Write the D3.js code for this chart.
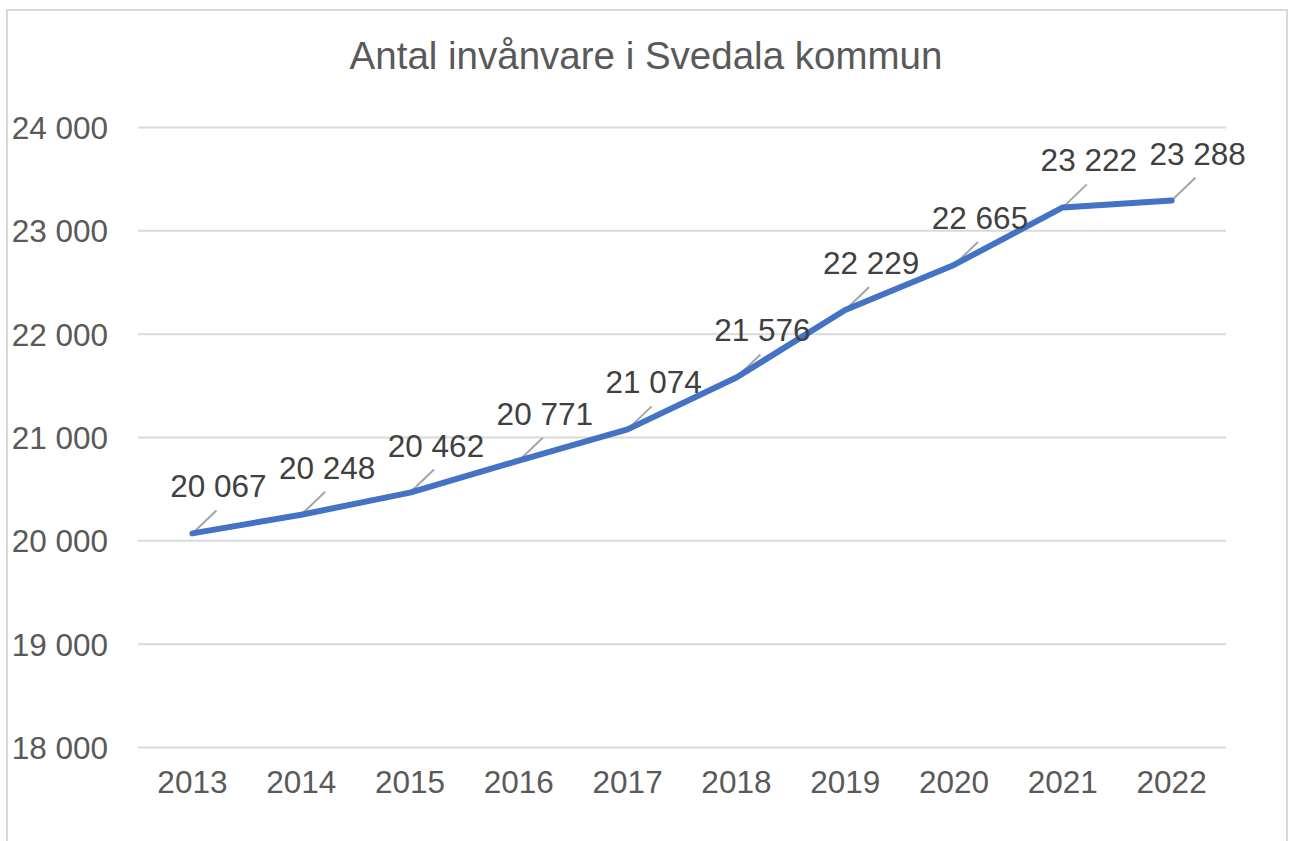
<!DOCTYPE html>
<html lang="sv">
<head>
  <meta charset="UTF-8">
  <title>Antal invånvare i Svedala kommun</title>
  <script src="https://cdnjs.cloudflare.com/ajax/libs/d3/7.8.5/d3.min.js"></script>
  <style>
    html, body { margin: 0; padding: 0; background: #fff; }
    svg { display: block; font-family: "Liberation Sans", Arial, sans-serif; }
  </style>
</head>
<body>
  <svg class="chart"></svg>
  <script>
    // data
    const years = ["2013", "2014", "2015", "2016", "2017", "2018", "2019", "2020", "2021", "2022"];
    const population = [20067, 20248, 20462, 20771, 21074, 21576, 22229, 22665, 23222, 23288];
    const yTicks = [18000, 19000, 20000, 21000, 22000, 23000, 24000];
    const title = "Antal invånvare i Svedala kommun";

    const width = 1289, height = 841;
    const plot = { left: 138, right: 1226, top: 127, bottom: 747 };

    const svg = d3.select("svg.chart").attr("width", width).attr("height", height);

    // ram runt diagrammet
    svg.append("rect")
      .attr("x", 7).attr("y", 10)
      .attr("width", 1280).attr("height", 850)
      .attr("fill", "#fff")
      .attr("stroke", "#d9d9d9").attr("stroke-width", 2);

    const fmt = d => d3.format(",")(d).replace(/,/g, " ");

    const x = d3.scaleBand().domain(years).range([plot.left, plot.right]);
    const y = d3.scaleLinear().domain([18000, 24000]).range([plot.bottom, plot.top]);

    // titel
    svg.append("text")
      .attr("x", 646).attr("y", 69)
      .attr("text-anchor", "middle")
      .attr("font-size", 38.5)
      .attr("fill", "#595959")
      .text(title);

    // y-axel + stödlinjer
    const yAxis = d3.axisLeft(y).tickValues(yTicks).tickFormat(fmt)
      .tickSize(-(plot.right - plot.left)).tickPadding(30);
    const gy = svg.append("g").attr("transform", `translate(${plot.left},0)`).call(yAxis);
    gy.select(".domain").remove();
    gy.selectAll(".tick line").attr("stroke", "#d9d9d9").attr("stroke-width", 2);
    gy.selectAll(".tick text")
      .attr("font-size", 31.5).attr("fill", "#595959")
      .attr("font-family", "Liberation Sans, Arial, sans-serif")
      .attr("dy", "0.36em");

    // x-axel
    const xAxis = d3.axisBottom(x).tickSize(0).tickPadding(24);
    const gx = svg.append("g").attr("transform", `translate(0,${plot.bottom})`).call(xAxis);
    gx.select(".domain").remove();
    gx.selectAll(".tick text")
      .attr("font-size", 31.5).attr("fill", "#595959")
      .attr("font-family", "Liberation Sans, Arial, sans-serif")
      .attr("dy", "0.71em");

    const cx = (d, i) => x(years[i]) + x.bandwidth() / 2;

    // ledarlinjer
    svg.append("g").selectAll("line")
      .data(population)
      .join("line")
      .attr("x1", cx).attr("y1", d => y(d))
      .attr("x2", (d, i) => cx(d, i) + 24).attr("y2", d => y(d) - 23)
      .attr("stroke", "#a5a5a5").attr("stroke-width", 2);

    // linje
    const line = d3.line().x(cx).y(d => y(d));
    svg.append("path")
      .datum(population)
      .attr("d", line)
      .attr("fill", "none")
      .attr("stroke", "#4472c4")
      .attr("stroke-width", 6)
      .attr("stroke-linejoin", "round")
      .attr("stroke-linecap", "round");

    // dataetiketter
    svg.append("g").selectAll("text")
      .data(population)
      .join("text")
      .attr("x", (d, i) => cx(d, i) + 26)
      .attr("y", d => y(d) - 36)
      .attr("text-anchor", "middle")
      .attr("font-size", 31.5)
      .attr("fill", "#404040")
      .text(fmt);
  </script>
</body>
</html>
